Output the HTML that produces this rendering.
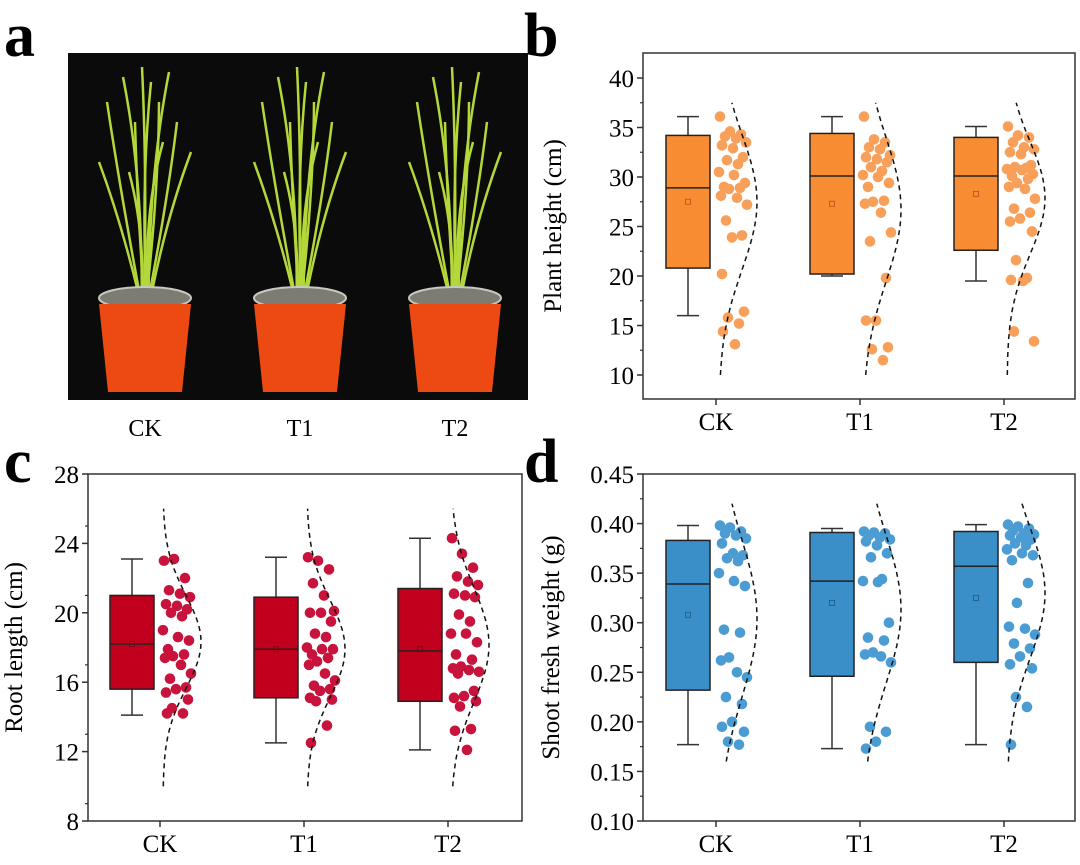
<!DOCTYPE html>
<html><head><meta charset="utf-8"><style>
body{margin:0;background:#fff;width:1080px;height:865px;overflow:hidden}
svg{display:block;font-family:"Liberation Serif",serif}
</style></head><body>
<svg id="fig" width="1080" height="865">
<defs><clipPath id="pc"><rect x="68" y="53" width="460" height="347"/></clipPath></defs>
<text x="4" y="56" font-size="62" font-weight="bold">a</text>
<text x="524" y="56" font-size="62" font-weight="bold">b</text>
<text x="4" y="482" font-size="62" font-weight="bold">c</text>
<text x="524" y="482" font-size="62" font-weight="bold">d</text>
<g id="photo" clip-path="url(#pc)">
<rect x="68" y="53" width="460" height="347" fill="#0b0b0b"/>
</g>
<text x="145" y="436" font-size="24" text-anchor="middle">CK</text>
<text x="300" y="436" font-size="24" text-anchor="middle">T1</text>
<text x="455" y="436" font-size="24" text-anchor="middle">T2</text>
</svg>
<script>
const categories=["CK","T1","T2"];
// panel b: plant height
const bStats=[[16,20.8,28.9,34.2,36.1,27.5],[20,20.2,30.1,34.4,36.1,27.3],[19.5,22.6,30.1,34,35.1,28.3]];
const bPoints=[
[36.1,34.6,34.3,34.1,33.9,33.5,33.2,32.9,32.0,31.7,31.3,30.5,30.2,29.4,29.0,28.9,28.8,28.1,27.9,27.2,25.6,24.1,23.9,20.2,16.4,15.8,15.2,14.4,13.1],
[36.1,33.8,33.5,33.0,32.8,32.2,32.0,31.8,31.5,31.0,30.6,30.2,30.0,29.4,29.0,27.6,27.5,27.3,26.4,24.4,23.5,19.8,15.5,15.5,12.8,12.6,11.5],
[35.1,34.2,34.0,33.5,33.0,32.8,32.5,32.3,31.2,31.0,30.9,30.8,30.7,30.3,30.1,29.8,29.4,29.0,28.8,27.8,26.8,26.4,25.8,25.5,24.5,21.6,19.8,19.6,19.5,14.4,13.4]];
// panel c: root length
const cStats=[[14.1,15.6,18.2,21.0,23.1,18.2],[12.5,15.1,17.9,20.9,23.2,17.9],[12.1,14.9,17.8,21.4,24.3,17.9]];
const cPoints=[
[23.0,23.1,22.0,21.3,21.1,20.9,20.5,20.4,20.2,20.0,19.8,19.0,18.6,18.4,17.9,17.6,17.5,17.4,17.0,16.5,16.2,15.7,15.6,15.4,15.0,14.5,14.2,14.2],
[23.2,23.0,22.5,21.7,21.0,20.1,20.0,20.0,19.5,18.8,18.6,18.0,17.9,17.9,17.6,17.4,17.2,17.0,16.5,16.1,15.8,15.6,15.5,15.1,15.0,14.9,13.5,12.5],
[24.3,23.4,22.6,22.1,21.8,21.6,21.1,21.0,20.9,19.9,19.5,18.8,18.8,18.3,17.6,17.3,16.9,16.8,16.7,16.6,16.5,15.5,15.2,15.1,14.9,14.6,13.3,13.2,12.1]];
// panel d: shoot fresh weight
const dStats=[[0.177,0.232,0.339,0.383,0.398,0.308],[0.173,0.246,0.342,0.391,0.395,0.320],[0.177,0.260,0.357,0.392,0.399,0.325]];
const dPoints=[
[0.398,0.396,0.392,0.390,0.388,0.385,0.380,0.370,0.368,0.365,0.362,0.350,0.342,0.337,0.293,0.290,0.265,0.262,0.250,0.245,0.225,0.218,0.200,0.195,0.190,0.180,0.177],
[0.392,0.391,0.390,0.388,0.386,0.384,0.382,0.378,0.370,0.366,0.344,0.342,0.341,0.300,0.285,0.282,0.270,0.268,0.266,0.260,0.195,0.190,0.180,0.173],
[0.399,0.397,0.395,0.393,0.390,0.389,0.388,0.386,0.384,0.380,0.378,0.374,0.370,0.368,0.363,0.340,0.320,0.296,0.294,0.288,0.279,0.274,0.266,0.258,0.254,0.225,0.215,0.177]];
const bTicks=[10,15,20,25,30,35,40];
const cTicks=[8,12,16,20,24,28];
const dTicks=["0.10","0.15","0.20","0.25","0.30","0.35","0.40","0.45"];

const NS="http://www.w3.org/2000/svg";
const svg=document.getElementById("fig");
function mk(tag,attrs,parent){const e=document.createElementNS(NS,tag);for(const k in attrs)e.setAttribute(k,attrs[k]);(parent||svg).appendChild(e);return e;}

// photo
const photo=document.getElementById("photo");
[145,300,455].forEach((cx,i)=>{
  const g=mk("g",{},photo);
  
  
  const leaves=[[-38,-190,-10],[-22,-215,6],[-10,-170,-4],[-3,-225,3],[6,-210,-6],[14,-190,8],[24,-220,-5],[32,-170,10],[46,-140,4],[-46,-130,-6],[-16,-120,5],[18,-150,-8]];
  leaves.forEach(l=>{mk("path",{d:`M${cx+l[0]*0.15},292 Q${cx+l[0]*0.4+l[2]},${292+l[1]*0.55} ${cx+l[0]},${292+l[1]}`,stroke:"#b4d83a","stroke-width":2.5,fill:"none"},g);});
  mk("ellipse",{cx:cx,cy:298,rx:46,ry:11,fill:"#7c7c72",stroke:"#c8c8c0","stroke-width":2},g);
  mk("path",{d:`M${cx-46},304 L${cx+46},304 L${cx+37},392 L${cx-37},392 Z`,fill:"#ec4a12"},g);
});

function panel(o){
  const y=v=>o.y0+(v-o.vmin)*(o.y1-o.y0)/(o.vmax-o.vmin);
  mk("rect",{x:o.L,y:o.T,width:o.R-o.L,height:o.B-o.T,fill:"none",stroke:"#333","stroke-width":1.5});
  const ax=mk("g",{});
  
  
  o.ticks.forEach((t,i)=>{const v=parseFloat(t);const yy=y(v);
    mk("line",{x1:o.L-6,x2:o.L,y1:yy,y2:yy,stroke:"#333","stroke-width":1.5},ax);
    if(i<o.ticks.length-1){const ym=y(v+o.step/2);mk("line",{x1:o.L-3,x2:o.L,y1:ym,y2:ym,stroke:"#333","stroke-width":1.2},ax);}
    const tx=mk("text",{x:o.L-9,y:yy+9,"font-size":25,"text-anchor":"end"},ax);tx.textContent=t;});
  const yt=mk("text",{x:0,y:0,"font-size":25,"text-anchor":"middle",transform:`translate(${o.L-o.titleOff},${(o.T+o.B)/2}) rotate(-90)`});
  yt.textContent=o.title;
  
  
  categories.forEach((c,i)=>{
    const bx=o.boxX+i*144, cx=bx+22, tickX=bx+50;
    mk("line",{x1:tickX,x2:tickX,y1:o.B,y2:o.B+6,stroke:"#333","stroke-width":1.5});
    const lb=mk("text",{x:tickX,y:o.B+31,"font-size":25,"text-anchor":"middle"});lb.textContent=c;
    
    
    const s=o.stats[i];
    const g=mk("g",{});
    
    
    mk("line",{x1:cx,x2:cx,y1:y(s[0]),y2:y(s[4]),stroke:"#333","stroke-width":1.5},g);
    mk("line",{x1:cx-11,x2:cx+11,y1:y(s[0]),y2:y(s[0]),stroke:"#333","stroke-width":1.5},g);
    mk("line",{x1:cx-11,x2:cx+11,y1:y(s[4]),y2:y(s[4]),stroke:"#333","stroke-width":1.5},g);
    mk("rect",{x:bx,y:y(s[3]),width:44,height:y(s[1])-y(s[3]),fill:o.color,stroke:"#222","stroke-width":1.5},g);
    mk("line",{x1:bx,x2:bx+44,y1:y(s[2]),y2:y(s[2]),stroke:"#222","stroke-width":1.5},g);
    mk("rect",{x:cx-2.5,y:y(s[5])-2.5,width:5,height:5,fill:"none",stroke:o.meanColor,"stroke-width":0.8},g);
    const pts=o.points[i];
    const pg=mk("g",{});
    
    
    const jit=[2,12,23,7,18,28,4,15,25,9,20,1,16,27,6,22,11,3,19,29,8,24,14,4,26,10,21,5,17,8,28];
    pts.forEach((v,k)=>{mk("circle",{cx:bx+52+jit[k%jit.length],cy:y(v),r:5.3,fill:o.ptColor},pg);});
    const n=pts.length,m=pts.reduce((a,b)=>a+b,0)/n;
    const sd=Math.sqrt(pts.reduce((a,b)=>a+(b-m)*(b-m),0)/(n-1));
    let d="";
    for(let j=0;j<=60;j++){const v=o.cLo+(o.cHi-o.cLo)*j/60;const p=Math.exp(-0.5*((v-m)/sd)**2);
      d+=(j?"L":"M")+(bx+53+38*p).toFixed(1)+","+y(v).toFixed(1);}
    const cp=mk("path",{d:d,fill:"none",stroke:"#111","stroke-width":1.5,"stroke-dasharray":"5,4"});
    
    
  });
}
panel({name:"plant-height",L:643,R:1075,T:53,B:399,y0:375,y1:78,vmin:10,vmax:40,ticks:bTicks,step:5,
  title:"Plant height (cm)",titleOff:82,boxX:666,stats:bStats,points:bPoints,color:"#f88c33",ptColor:"#f8a05a",meanColor:"#b65010",cLo:10,cHi:37.5});
panel({name:"root-length",L:88,R:522,T:474,B:821,y0:821,y1:474,vmin:8,vmax:28,ticks:cTicks,step:2,
  title:"Root length (cm)",titleOff:66,boxX:110,stats:cStats,points:cPoints,color:"#c0001c",ptColor:"#c8143c",meanColor:"#800010",cLo:10,cHi:26});
panel({name:"shoot-fresh-weight",L:643,R:1075,T:474,B:821,y0:821,y1:474,vmin:0.10,vmax:0.45,ticks:dTicks,step:0.05,
  title:"Shoot fresh weight (g)",titleOff:84,boxX:666,stats:dStats,points:dPoints,color:"#3b8fc8",ptColor:"#4c9cd4",meanColor:"#1d5a88",cLo:0.16,cHi:0.42});
</script>
</body></html>
